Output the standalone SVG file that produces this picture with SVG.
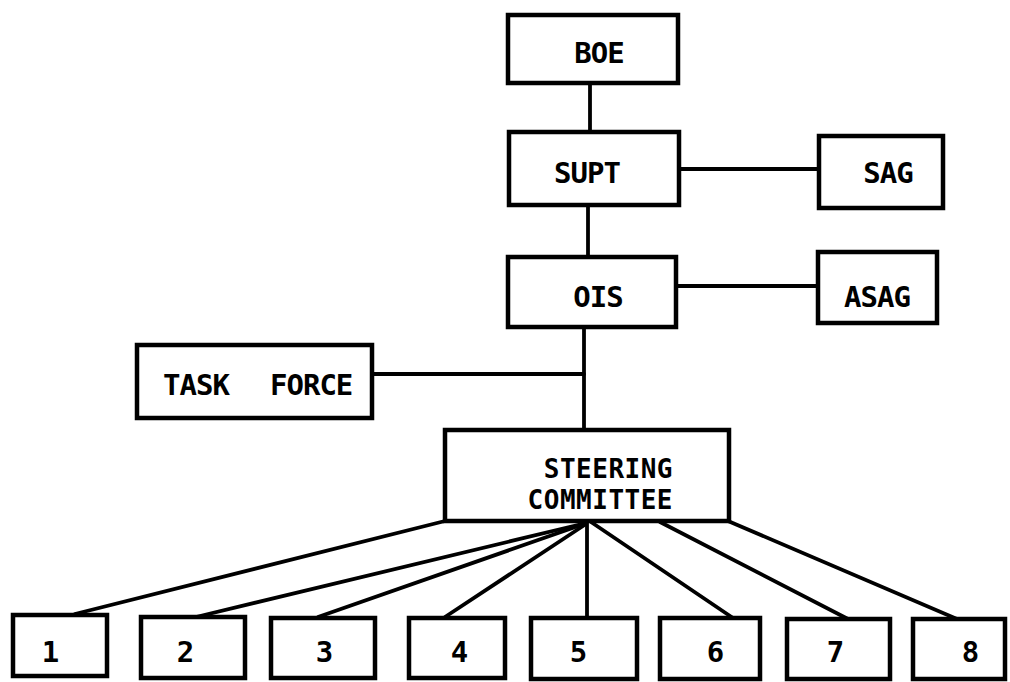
<svg xmlns="http://www.w3.org/2000/svg" width="1010" height="682" viewBox="0 0 1010 682">
<style>
.box{fill:#fff;stroke:#000;stroke-width:4.5}
.lbl{font-family:"DejaVu Sans Mono","Liberation Mono",monospace;font-weight:bold;font-size:29px;letter-spacing:-1px;fill:#000}
.sc{font-size:26px;letter-spacing:0.5px}
.c{text-anchor:middle}
.ln{stroke:#000;stroke-width:3.8;fill:none;stroke-linecap:round}
</style>
<rect width="1010" height="682" fill="#fff"/>
<g id="connectors">
<line class="ln" x1="590" y1="83" x2="590" y2="132"/>
<line class="ln" x1="588" y1="205" x2="588" y2="257"/>
<line class="ln" x1="679" y1="169" x2="819" y2="169"/>
<line class="ln" x1="676" y1="286" x2="818" y2="286"/>
<line class="ln" x1="584" y1="327" x2="584" y2="430"/>
<line class="ln" x1="372" y1="374" x2="584" y2="374"/>
<line class="ln" x1="445" y1="521" x2="75" y2="614"/>
<line class="ln" x1="582" y1="524" x2="196" y2="617"/>
<line class="ln" x1="584" y1="524" x2="318" y2="617"/>
<line class="ln" x1="586" y1="524" x2="445" y2="617"/>
<line class="ln" x1="587" y1="521" x2="587" y2="618"/>
<line class="ln" x1="591" y1="522" x2="733" y2="618"/>
<line class="ln" x1="660" y1="522" x2="848" y2="619"/>
<line class="ln" x1="728" y1="521" x2="957" y2="619"/>
</g>
<g id="boe"><rect class="box" x="508" y="15" width="170" height="68"/><text class="lbl c" x="599" y="63">BOE</text></g>
<g id="supt"><rect class="box" x="509" y="132" width="170" height="73"/><text class="lbl c" x="587" y="183">SUPT</text></g>
<g id="sag"><rect class="box" x="819" y="136" width="124" height="72"/><text class="lbl c" x="888" y="183">SAG</text></g>
<g id="ois"><rect class="box" x="508" y="257" width="168" height="70"/><text class="lbl c" x="598" y="307">OIS</text></g>
<g id="asag"><rect class="box" x="818" y="252" width="119" height="71"/><text class="lbl c" x="877" y="307">ASAG</text></g>
<g id="taskforce"><rect class="box" x="137" y="345" width="235" height="73"/><text class="lbl" y="395"><tspan x="163">TASK</tspan><tspan x="270">FORCE</tspan></text></g>
<g id="steering"><rect class="box" x="445" y="430" width="284" height="91"/><text class="lbl sc" text-anchor="end" x="673" y="478">STEERING</text><text class="lbl sc" text-anchor="end" x="673" y="509">COMMITTEE</text></g>
<g id="n1"><rect class="box" x="13" y="615" width="94" height="61"/><text class="lbl c" x="50" y="662">1</text></g>
<g id="n2"><rect class="box" x="141" y="617" width="104" height="61"/><text class="lbl c" x="185" y="662">2</text></g>
<g id="n3"><rect class="box" x="271" y="618" width="104" height="60"/><text class="lbl c" x="324" y="662">3</text></g>
<g id="n4"><rect class="box" x="409" y="618" width="96" height="60"/><text class="lbl c" x="459" y="662">4</text></g>
<g id="n5"><rect class="box" x="531" y="618" width="106" height="61"/><text class="lbl c" x="578" y="662">5</text></g>
<g id="n6"><rect class="box" x="660" y="618" width="100" height="61"/><text class="lbl c" x="715" y="662">6</text></g>
<g id="n7"><rect class="box" x="787" y="619" width="103" height="60"/><text class="lbl c" x="835" y="662">7</text></g>
<g id="n8"><rect class="box" x="913" y="619" width="92" height="60"/><text class="lbl c" x="970" y="662">8</text></g>
</svg>
